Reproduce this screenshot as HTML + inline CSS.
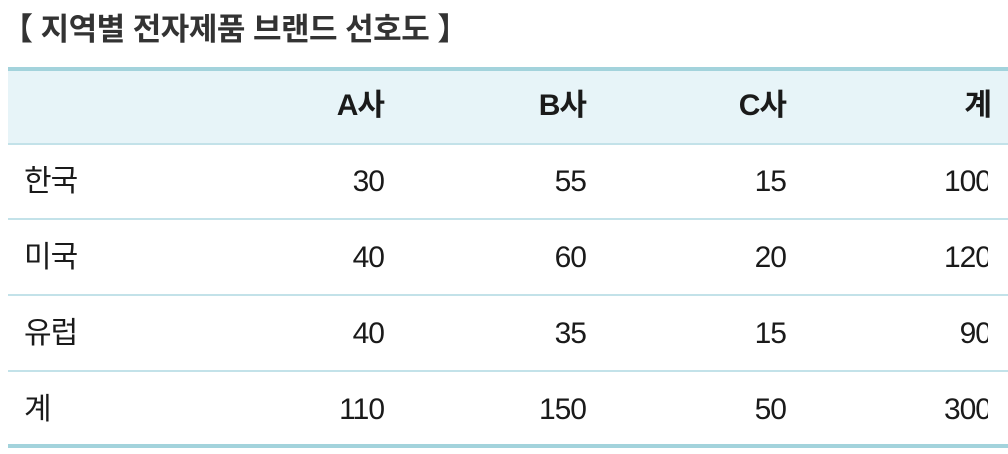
<!DOCTYPE html>
<html><head><meta charset="utf-8"><style>
body{margin:0;width:1008px;height:454px;background:#fff;position:relative;overflow:hidden;font-family:"Liberation Sans","Noto Sans CJK KR",sans-serif;color:#1a1a1a}
.t{position:absolute;left:2px;top:4px;font-size:31px;color:#333;white-space:nowrap;font-weight:bold;letter-spacing:-0.5px}
.hdr{position:absolute;left:8px;width:1000px;top:70px;height:73px;background:#e7f4f8}
.line{position:absolute;left:8px;width:1000px;height:2px;background:#c3e2e9}
.thick{height:4px;background:#a3d3dc}
.c{position:absolute;font-size:30px;line-height:36px;white-space:nowrap;letter-spacing:-1px}
.h{font-weight:bold}
.r{text-align:right;width:120px}
.clip{position:absolute;left:880px;width:108px;top:0;height:454px;overflow:hidden}
</style></head><body>
<div class="t">【 지역별 전자제품 브랜드 선호도 】</div>
<div class="hdr"></div>
<div class="line thick" style="top:67px"></div>
<div class="line" style="top:143px"></div>
<div class="line" style="top:218px"></div>
<div class="line" style="top:294px"></div>
<div class="line" style="top:370px"></div>
<div class="line thick" style="top:444px"></div>
<div id="cells"></div>
<div class="clip" id="clip"></div>
<script>
const rows=["한국","미국","유럽","계"];
const cols=["A사","B사","C사","계"];
const vals=[[30,55,15,100],[40,60,20,120],[40,35,15,90],[110,150,50,300]];
const rights=[384,586,786,991];
const cells=document.getElementById('cells'),clip=document.getElementById('clip');
function add(parent,txt,x,y,right,name,cls){
  const d=document.createElement('div');d.className='c'+(right?' r':'')+(cls?' '+cls:'');
  d.textContent=txt;
  
  
  d.style.top=y+'px';
  if(right){d.style.left=(x-120-(parent===clip?880:0))+'px';}else d.style.left=x+'px';
  parent.appendChild(d);
}
cols.forEach((c,j)=>add(cells,c,rights[j],88,true,'column-header','h'));
rows.forEach((r,i)=>{
  const y=164+i*76;
  add(cells,r,24,y,false,'row-label');
  vals[i].forEach((v,j)=>add(j==3?clip:cells,String(v),rights[j],y,true,'cell-value'));
});
</script>
</body></html>
